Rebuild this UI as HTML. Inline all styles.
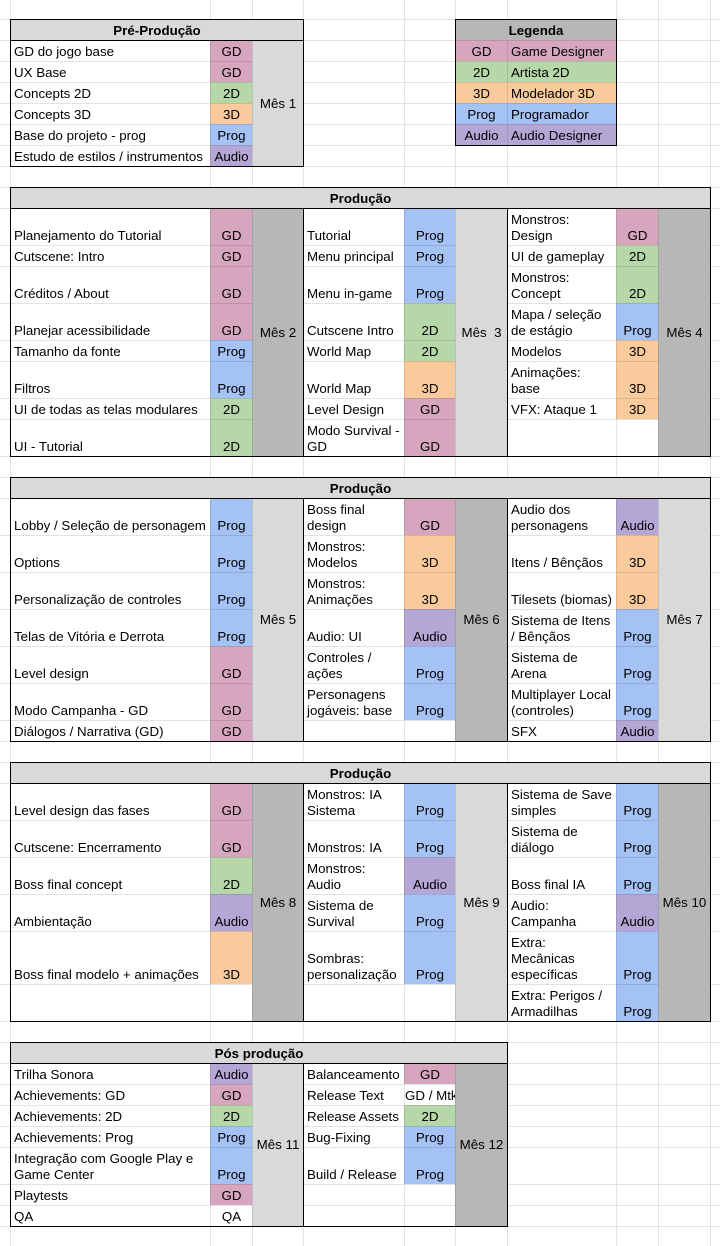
<!DOCTYPE html>
<html><head><meta charset="utf-8">
<style>
html,body{margin:0;padding:0}
body{width:720px;height:1246px;position:relative;overflow:hidden;background:#fff;font-family:"Liberation Sans",Arial,sans-serif;font-size:13.33px;line-height:16px;color:#000}
.gh{position:absolute;left:0;width:720px;height:1px;background:#e2e2e2}
.gv{position:absolute;top:0;height:1246px;width:1px;background:#e2e2e2}
.c{position:absolute;box-sizing:border-box;border-left:1px solid rgba(0,0,0,.115);border-top:1px solid rgba(0,0,0,.115);display:flex;align-items:flex-end;padding:0 3px 1px 3px;white-space:pre;overflow:hidden;background:#fff}
.c span{display:block}
.m{justify-content:center}
.v{align-items:center;padding-bottom:0;justify-content:center}
.h{font-weight:bold;justify-content:center;background:#d9d9d9}
.gd{background:#d5a6bd}.d2{background:#b6d7a8}.d3{background:#f9cb9c}.pg{background:#a4c2f4}.au{background:#b4a7d6}.lg{background:#d9d9d9}.dg{background:#b7b7b7}
.o{position:absolute;box-sizing:border-box;border:1px solid #000}
.k{position:absolute;background:#000}
</style></head><body>

<!-- background gridlines -->
<div class="gh" style="top:19px"></div><div class="gh" style="top:40px"></div><div class="gh" style="top:61px"></div><div class="gh" style="top:82px"></div><div class="gh" style="top:103px"></div><div class="gh" style="top:124px"></div><div class="gh" style="top:145px"></div><div class="gh" style="top:166px"></div><div class="gh" style="top:187px"></div><div class="gh" style="top:208px"></div><div class="gh" style="top:245px"></div><div class="gh" style="top:266px"></div><div class="gh" style="top:303px"></div><div class="gh" style="top:340px"></div><div class="gh" style="top:361px"></div><div class="gh" style="top:398px"></div><div class="gh" style="top:419px"></div><div class="gh" style="top:456px"></div><div class="gh" style="top:477px"></div><div class="gh" style="top:498px"></div><div class="gh" style="top:535px"></div><div class="gh" style="top:572px"></div><div class="gh" style="top:609px"></div><div class="gh" style="top:646px"></div><div class="gh" style="top:683px"></div><div class="gh" style="top:720px"></div><div class="gh" style="top:741px"></div><div class="gh" style="top:762px"></div><div class="gh" style="top:783px"></div><div class="gh" style="top:820px"></div><div class="gh" style="top:857px"></div><div class="gh" style="top:894px"></div><div class="gh" style="top:931px"></div><div class="gh" style="top:984px"></div><div class="gh" style="top:1021px"></div><div class="gh" style="top:1042px"></div><div class="gh" style="top:1063px"></div><div class="gh" style="top:1084px"></div><div class="gh" style="top:1105px"></div><div class="gh" style="top:1126px"></div><div class="gh" style="top:1147px"></div><div class="gh" style="top:1184px"></div><div class="gh" style="top:1205px"></div><div class="gh" style="top:1226px"></div>
<div class="gv" style="left:10px"></div><div class="gv" style="left:210px"></div><div class="gv" style="left:252px"></div><div class="gv" style="left:303px"></div><div class="gv" style="left:404px"></div><div class="gv" style="left:455px"></div><div class="gv" style="left:507px"></div><div class="gv" style="left:616px"></div><div class="gv" style="left:658px"></div><div class="gv" style="left:710px"></div>

<!-- Pré-Produção -->
<div class="c h" style="left:10px;top:19px;width:293px;height:21px"><span>Pré-Produção</span></div>
<div class="c" style="left:10px;top:40px;width:200px;height:21px"><span>GD do jogo base</span></div>
<div class="c m gd" style="left:210px;top:40px;width:42px;height:21px"><span>GD</span></div>
<div class="c" style="left:10px;top:61px;width:200px;height:21px"><span>UX Base</span></div>
<div class="c m gd" style="left:210px;top:61px;width:42px;height:21px"><span>GD</span></div>
<div class="c" style="left:10px;top:82px;width:200px;height:21px"><span>Concepts 2D</span></div>
<div class="c m d2" style="left:210px;top:82px;width:42px;height:21px"><span>2D</span></div>
<div class="c" style="left:10px;top:103px;width:200px;height:21px"><span>Concepts 3D</span></div>
<div class="c m d3" style="left:210px;top:103px;width:42px;height:21px"><span>3D</span></div>
<div class="c" style="left:10px;top:124px;width:200px;height:21px"><span>Base do projeto - prog</span></div>
<div class="c m pg" style="left:210px;top:124px;width:42px;height:21px"><span>Prog</span></div>
<div class="c" style="left:10px;top:145px;width:200px;height:21px"><span>Estudo de estilos / instrumentos</span></div>
<div class="c m au" style="left:210px;top:145px;width:42px;height:21px"><span>Audio</span></div>
<div class="c v lg" style="left:252px;top:40px;width:51px;height:126px"><span>Mês 1</span></div>

<!-- Legenda -->
<div class="c h dg" style="left:455px;top:19px;width:161px;height:21px"><span>Legenda</span></div>
<div class="c m gd" style="left:455px;top:40px;width:52px;height:21px"><span>GD</span></div>
<div class="c gd" style="left:507px;top:40px;width:109px;height:21px"><span>Game Designer</span></div>
<div class="c m d2" style="left:455px;top:61px;width:52px;height:21px"><span>2D</span></div>
<div class="c d2" style="left:507px;top:61px;width:109px;height:21px"><span>Artista 2D</span></div>
<div class="c m d3" style="left:455px;top:82px;width:52px;height:21px"><span>3D</span></div>
<div class="c d3" style="left:507px;top:82px;width:109px;height:21px"><span>Modelador 3D</span></div>
<div class="c m pg" style="left:455px;top:103px;width:52px;height:21px"><span>Prog</span></div>
<div class="c pg" style="left:507px;top:103px;width:109px;height:21px"><span>Programador</span></div>
<div class="c m au" style="left:455px;top:124px;width:52px;height:21px"><span>Audio</span></div>
<div class="c au" style="left:507px;top:124px;width:109px;height:21px"><span>Audio Designer</span></div>

<!-- Produção 1 -->
<div class="c h" style="left:10px;top:187px;width:700px;height:21px"><span>Produção</span></div>
<div class="c" style="left:10px;top:208px;width:200px;height:37px"><span>Planejamento do Tutorial</span></div>
<div class="c m gd" style="left:210px;top:208px;width:42px;height:37px"><span>GD</span></div>
<div class="c" style="left:10px;top:245px;width:200px;height:21px"><span>Cutscene: Intro</span></div>
<div class="c m gd" style="left:210px;top:245px;width:42px;height:21px"><span>GD</span></div>
<div class="c" style="left:10px;top:266px;width:200px;height:37px"><span>Créditos / About</span></div>
<div class="c m gd" style="left:210px;top:266px;width:42px;height:37px"><span>GD</span></div>
<div class="c" style="left:10px;top:303px;width:200px;height:37px"><span>Planejar acessibilidade</span></div>
<div class="c m gd" style="left:210px;top:303px;width:42px;height:37px"><span>GD</span></div>
<div class="c" style="left:10px;top:340px;width:200px;height:21px"><span>Tamanho da fonte</span></div>
<div class="c m pg" style="left:210px;top:340px;width:42px;height:21px"><span>Prog</span></div>
<div class="c" style="left:10px;top:361px;width:200px;height:37px"><span>Filtros</span></div>
<div class="c m pg" style="left:210px;top:361px;width:42px;height:37px"><span>Prog</span></div>
<div class="c" style="left:10px;top:398px;width:200px;height:21px"><span>UI de todas as telas modulares</span></div>
<div class="c m d2" style="left:210px;top:398px;width:42px;height:21px"><span>2D</span></div>
<div class="c" style="left:10px;top:419px;width:200px;height:37px"><span>UI - Tutorial</span></div>
<div class="c m d2" style="left:210px;top:419px;width:42px;height:37px"><span>2D</span></div>
<div class="c v dg" style="left:252px;top:208px;width:51px;height:248px"><span>Mês 2</span></div>

<div class="c" style="left:303px;top:208px;width:101px;height:37px"><span>Tutorial</span></div>
<div class="c m pg" style="left:404px;top:208px;width:51px;height:37px"><span>Prog</span></div>
<div class="c" style="left:303px;top:245px;width:101px;height:21px"><span>Menu principal</span></div>
<div class="c m pg" style="left:404px;top:245px;width:51px;height:21px"><span>Prog</span></div>
<div class="c" style="left:303px;top:266px;width:101px;height:37px"><span>Menu in-game</span></div>
<div class="c m pg" style="left:404px;top:266px;width:51px;height:37px"><span>Prog</span></div>
<div class="c" style="left:303px;top:303px;width:101px;height:37px"><span>Cutscene Intro</span></div>
<div class="c m d2" style="left:404px;top:303px;width:51px;height:37px"><span>2D</span></div>
<div class="c" style="left:303px;top:340px;width:101px;height:21px"><span>World Map</span></div>
<div class="c m d2" style="left:404px;top:340px;width:51px;height:21px"><span>2D</span></div>
<div class="c" style="left:303px;top:361px;width:101px;height:37px"><span>World Map</span></div>
<div class="c m d3" style="left:404px;top:361px;width:51px;height:37px"><span>3D</span></div>
<div class="c" style="left:303px;top:398px;width:101px;height:21px"><span>Level Design</span></div>
<div class="c m gd" style="left:404px;top:398px;width:51px;height:21px"><span>GD</span></div>
<div class="c" style="left:303px;top:419px;width:101px;height:37px"><span>Modo Survival -<br>GD</span></div>
<div class="c m gd" style="left:404px;top:419px;width:51px;height:37px"><span>GD</span></div>
<div class="c v lg" style="left:455px;top:208px;width:52px;height:248px"><span>Mês  3</span></div>

<div class="c" style="left:507px;top:208px;width:109px;height:37px"><span>Monstros:<br>Design</span></div>
<div class="c m gd" style="left:616px;top:208px;width:42px;height:37px"><span>GD</span></div>
<div class="c" style="left:507px;top:245px;width:109px;height:21px"><span>UI de gameplay</span></div>
<div class="c m d2" style="left:616px;top:245px;width:42px;height:21px"><span>2D</span></div>
<div class="c" style="left:507px;top:266px;width:109px;height:37px"><span>Monstros:<br>Concept</span></div>
<div class="c m d2" style="left:616px;top:266px;width:42px;height:37px"><span>2D</span></div>
<div class="c" style="left:507px;top:303px;width:109px;height:37px"><span>Mapa / seleção<br>de estágio</span></div>
<div class="c m pg" style="left:616px;top:303px;width:42px;height:37px"><span>Prog</span></div>
<div class="c" style="left:507px;top:340px;width:109px;height:21px"><span>Modelos</span></div>
<div class="c m d3" style="left:616px;top:340px;width:42px;height:21px"><span>3D</span></div>
<div class="c" style="left:507px;top:361px;width:109px;height:37px"><span>Animações:<br>base</span></div>
<div class="c m d3" style="left:616px;top:361px;width:42px;height:37px"><span>3D</span></div>
<div class="c" style="left:507px;top:398px;width:109px;height:21px"><span>VFX: Ataque 1</span></div>
<div class="c m d3" style="left:616px;top:398px;width:42px;height:21px"><span>3D</span></div>
<div class="c" style="left:507px;top:419px;width:109px;height:37px"></div>
<div class="c" style="left:616px;top:419px;width:42px;height:37px"></div>
<div class="c v dg" style="left:658px;top:208px;width:52px;height:248px"><span>Mês 4</span></div>

<!-- Produção 2 -->
<div class="c h" style="left:10px;top:477px;width:700px;height:21px"><span>Produção</span></div>
<div class="c" style="left:10px;top:498px;width:200px;height:37px"><span>Lobby / Seleção de personagem</span></div>
<div class="c m pg" style="left:210px;top:498px;width:42px;height:37px"><span>Prog</span></div>
<div class="c" style="left:10px;top:535px;width:200px;height:37px"><span>Options</span></div>
<div class="c m pg" style="left:210px;top:535px;width:42px;height:37px"><span>Prog</span></div>
<div class="c" style="left:10px;top:572px;width:200px;height:37px"><span>Personalização de controles</span></div>
<div class="c m pg" style="left:210px;top:572px;width:42px;height:37px"><span>Prog</span></div>
<div class="c" style="left:10px;top:609px;width:200px;height:37px"><span>Telas de Vitória e Derrota</span></div>
<div class="c m pg" style="left:210px;top:609px;width:42px;height:37px"><span>Prog</span></div>
<div class="c" style="left:10px;top:646px;width:200px;height:37px"><span>Level design</span></div>
<div class="c m gd" style="left:210px;top:646px;width:42px;height:37px"><span>GD</span></div>
<div class="c" style="left:10px;top:683px;width:200px;height:37px"><span>Modo Campanha - GD</span></div>
<div class="c m gd" style="left:210px;top:683px;width:42px;height:37px"><span>GD</span></div>
<div class="c" style="left:10px;top:720px;width:200px;height:21px"><span>Diálogos / Narrativa (GD)</span></div>
<div class="c m gd" style="left:210px;top:720px;width:42px;height:21px"><span>GD</span></div>
<div class="c v lg" style="left:252px;top:498px;width:51px;height:243px"><span>Mês 5</span></div>

<div class="c" style="left:303px;top:498px;width:101px;height:37px"><span>Boss final<br>design</span></div>
<div class="c m gd" style="left:404px;top:498px;width:51px;height:37px"><span>GD</span></div>
<div class="c" style="left:303px;top:535px;width:101px;height:37px"><span>Monstros:<br>Modelos</span></div>
<div class="c m d3" style="left:404px;top:535px;width:51px;height:37px"><span>3D</span></div>
<div class="c" style="left:303px;top:572px;width:101px;height:37px"><span>Monstros:<br>Animações</span></div>
<div class="c m d3" style="left:404px;top:572px;width:51px;height:37px"><span>3D</span></div>
<div class="c" style="left:303px;top:609px;width:101px;height:37px"><span>Audio: UI</span></div>
<div class="c m au" style="left:404px;top:609px;width:51px;height:37px"><span>Audio</span></div>
<div class="c" style="left:303px;top:646px;width:101px;height:37px"><span>Controles /<br>ações</span></div>
<div class="c m pg" style="left:404px;top:646px;width:51px;height:37px"><span>Prog</span></div>
<div class="c" style="left:303px;top:683px;width:101px;height:37px"><span>Personagens<br>jogáveis: base</span></div>
<div class="c m pg" style="left:404px;top:683px;width:51px;height:37px"><span>Prog</span></div>
<div class="c" style="left:303px;top:720px;width:101px;height:21px"></div>
<div class="c" style="left:404px;top:720px;width:51px;height:21px"></div>
<div class="c v dg" style="left:455px;top:498px;width:52px;height:243px"><span>Mês 6</span></div>

<div class="c" style="left:507px;top:498px;width:109px;height:37px"><span>Audio dos<br>personagens</span></div>
<div class="c m au" style="left:616px;top:498px;width:42px;height:37px"><span>Audio</span></div>
<div class="c" style="left:507px;top:535px;width:109px;height:37px"><span>Itens / Bênçãos</span></div>
<div class="c m d3" style="left:616px;top:535px;width:42px;height:37px"><span>3D</span></div>
<div class="c" style="left:507px;top:572px;width:109px;height:37px"><span>Tilesets (biomas)</span></div>
<div class="c m d3" style="left:616px;top:572px;width:42px;height:37px"><span>3D</span></div>
<div class="c" style="left:507px;top:609px;width:109px;height:37px"><span>Sistema de Itens<br>/ Bênçãos</span></div>
<div class="c m pg" style="left:616px;top:609px;width:42px;height:37px"><span>Prog</span></div>
<div class="c" style="left:507px;top:646px;width:109px;height:37px"><span>Sistema de<br>Arena</span></div>
<div class="c m pg" style="left:616px;top:646px;width:42px;height:37px"><span>Prog</span></div>
<div class="c" style="left:507px;top:683px;width:109px;height:37px"><span>Multiplayer Local<br>(controles)</span></div>
<div class="c m pg" style="left:616px;top:683px;width:42px;height:37px"><span>Prog</span></div>
<div class="c" style="left:507px;top:720px;width:109px;height:21px"><span>SFX</span></div>
<div class="c m au" style="left:616px;top:720px;width:42px;height:21px"><span>Audio</span></div>
<div class="c v lg" style="left:658px;top:498px;width:52px;height:243px"><span>Mês 7</span></div>

<!-- Produção 3 -->
<div class="c h" style="left:10px;top:762px;width:700px;height:21px"><span>Produção</span></div>
<div class="c" style="left:10px;top:783px;width:200px;height:37px"><span>Level design das fases</span></div>
<div class="c m gd" style="left:210px;top:783px;width:42px;height:37px"><span>GD</span></div>
<div class="c" style="left:10px;top:820px;width:200px;height:37px"><span>Cutscene: Encerramento</span></div>
<div class="c m gd" style="left:210px;top:820px;width:42px;height:37px"><span>GD</span></div>
<div class="c" style="left:10px;top:857px;width:200px;height:37px"><span>Boss final concept</span></div>
<div class="c m d2" style="left:210px;top:857px;width:42px;height:37px"><span>2D</span></div>
<div class="c" style="left:10px;top:894px;width:200px;height:37px"><span>Ambientação</span></div>
<div class="c m au" style="left:210px;top:894px;width:42px;height:37px"><span>Audio</span></div>
<div class="c" style="left:10px;top:931px;width:200px;height:53px"><span>Boss final modelo + animações</span></div>
<div class="c m d3" style="left:210px;top:931px;width:42px;height:53px"><span>3D</span></div>
<div class="c" style="left:10px;top:984px;width:200px;height:37px"></div>
<div class="c" style="left:210px;top:984px;width:42px;height:37px"></div>
<div class="c v dg" style="left:252px;top:783px;width:51px;height:238px"><span>Mês 8</span></div>

<div class="c" style="left:303px;top:783px;width:101px;height:37px"><span>Monstros: IA<br>Sistema</span></div>
<div class="c m pg" style="left:404px;top:783px;width:51px;height:37px"><span>Prog</span></div>
<div class="c" style="left:303px;top:820px;width:101px;height:37px"><span>Monstros: IA</span></div>
<div class="c m pg" style="left:404px;top:820px;width:51px;height:37px"><span>Prog</span></div>
<div class="c" style="left:303px;top:857px;width:101px;height:37px"><span>Monstros:<br>Audio</span></div>
<div class="c m au" style="left:404px;top:857px;width:51px;height:37px"><span>Audio</span></div>
<div class="c" style="left:303px;top:894px;width:101px;height:37px"><span>Sistema de<br>Survival</span></div>
<div class="c m pg" style="left:404px;top:894px;width:51px;height:37px"><span>Prog</span></div>
<div class="c" style="left:303px;top:931px;width:101px;height:53px"><span>Sombras:<br>personalização</span></div>
<div class="c m pg" style="left:404px;top:931px;width:51px;height:53px"><span>Prog</span></div>
<div class="c" style="left:303px;top:984px;width:101px;height:37px"></div>
<div class="c" style="left:404px;top:984px;width:51px;height:37px"></div>
<div class="c v lg" style="left:455px;top:783px;width:52px;height:238px"><span>Mês 9</span></div>

<div class="c" style="left:507px;top:783px;width:109px;height:37px"><span>Sistema de Save<br>simples</span></div>
<div class="c m pg" style="left:616px;top:783px;width:42px;height:37px"><span>Prog</span></div>
<div class="c" style="left:507px;top:820px;width:109px;height:37px"><span>Sistema de<br>diálogo</span></div>
<div class="c m pg" style="left:616px;top:820px;width:42px;height:37px"><span>Prog</span></div>
<div class="c" style="left:507px;top:857px;width:109px;height:37px"><span>Boss final IA</span></div>
<div class="c m pg" style="left:616px;top:857px;width:42px;height:37px"><span>Prog</span></div>
<div class="c" style="left:507px;top:894px;width:109px;height:37px"><span>Audio:<br>Campanha</span></div>
<div class="c m au" style="left:616px;top:894px;width:42px;height:37px"><span>Audio</span></div>
<div class="c" style="left:507px;top:931px;width:109px;height:53px"><span>Extra:<br>Mecânicas<br>específicas</span></div>
<div class="c m pg" style="left:616px;top:931px;width:42px;height:53px"><span>Prog</span></div>
<div class="c" style="left:507px;top:984px;width:109px;height:37px"><span>Extra: Perigos /<br>Armadilhas</span></div>
<div class="c m pg" style="left:616px;top:984px;width:42px;height:37px"><span>Prog</span></div>
<div class="c v dg" style="left:658px;top:783px;width:52px;height:238px"><span>Mês 10</span></div>

<!-- Pós produção -->
<div class="c h" style="left:10px;top:1042px;width:497px;height:21px"><span>Pós produção</span></div>
<div class="c" style="left:10px;top:1063px;width:200px;height:21px"><span>Trilha Sonora</span></div>
<div class="c m au" style="left:210px;top:1063px;width:42px;height:21px"><span>Audio</span></div>
<div class="c" style="left:10px;top:1084px;width:200px;height:21px"><span>Achievements: GD</span></div>
<div class="c m gd" style="left:210px;top:1084px;width:42px;height:21px"><span>GD</span></div>
<div class="c" style="left:10px;top:1105px;width:200px;height:21px"><span>Achievements: 2D</span></div>
<div class="c m d2" style="left:210px;top:1105px;width:42px;height:21px"><span>2D</span></div>
<div class="c" style="left:10px;top:1126px;width:200px;height:21px"><span>Achievements: Prog</span></div>
<div class="c m pg" style="left:210px;top:1126px;width:42px;height:21px"><span>Prog</span></div>
<div class="c" style="left:10px;top:1147px;width:200px;height:37px"><span>Integração com Google Play e<br>Game Center</span></div>
<div class="c m pg" style="left:210px;top:1147px;width:42px;height:37px"><span>Prog</span></div>
<div class="c" style="left:10px;top:1184px;width:200px;height:21px"><span>Playtests</span></div>
<div class="c m gd" style="left:210px;top:1184px;width:42px;height:21px"><span>GD</span></div>
<div class="c" style="left:10px;top:1205px;width:200px;height:21px"><span>QA</span></div>
<div class="c m" style="left:210px;top:1205px;width:42px;height:21px"><span>QA</span></div>
<div class="c v lg" style="left:252px;top:1063px;width:51px;height:163px"><span>Mês 11</span></div>

<div class="c" style="left:303px;top:1063px;width:101px;height:21px"><span>Balanceamento</span></div>
<div class="c m gd" style="left:404px;top:1063px;width:51px;height:21px"><span>GD</span></div>
<div class="c" style="left:303px;top:1084px;width:101px;height:21px"><span>Release Text</span></div>
<div class="c" style="left:404px;top:1084px;width:51px;height:21px;padding-left:0;padding-right:0"><span>GD / Mtk</span></div>
<div class="c" style="left:303px;top:1105px;width:101px;height:21px"><span>Release Assets</span></div>
<div class="c m d2" style="left:404px;top:1105px;width:51px;height:21px"><span>2D</span></div>
<div class="c" style="left:303px;top:1126px;width:101px;height:21px"><span>Bug-Fixing</span></div>
<div class="c m pg" style="left:404px;top:1126px;width:51px;height:21px"><span>Prog</span></div>
<div class="c" style="left:303px;top:1147px;width:101px;height:37px"><span>Build / Release</span></div>
<div class="c m pg" style="left:404px;top:1147px;width:51px;height:37px"><span>Prog</span></div>
<div class="c" style="left:303px;top:1184px;width:101px;height:21px"></div>
<div class="c" style="left:404px;top:1184px;width:51px;height:21px"></div>
<div class="c" style="left:303px;top:1205px;width:101px;height:21px"></div>
<div class="c" style="left:404px;top:1205px;width:51px;height:21px"></div>
<div class="c v dg" style="left:455px;top:1063px;width:52px;height:163px"><span>Mês 12</span></div>

<!-- black borders -->
<div class="o" style="left:10px;top:19px;width:294px;height:148px"></div>
<div class="k" style="left:10px;top:40px;width:294px;height:1px"></div>

<div class="o" style="left:455px;top:19px;width:162px;height:127px"></div>

<div class="o" style="left:10px;top:187px;width:701px;height:270px"></div>
<div class="k" style="left:10px;top:208px;width:701px;height:1px"></div>
<div class="k" style="left:303px;top:208px;width:1px;height:249px"></div>
<div class="k" style="left:507px;top:208px;width:1px;height:249px"></div>

<div class="o" style="left:10px;top:477px;width:701px;height:265px"></div>
<div class="k" style="left:10px;top:498px;width:701px;height:1px"></div>
<div class="k" style="left:303px;top:498px;width:1px;height:244px"></div>
<div class="k" style="left:507px;top:498px;width:1px;height:244px"></div>

<div class="o" style="left:10px;top:762px;width:701px;height:260px"></div>
<div class="k" style="left:10px;top:783px;width:701px;height:1px"></div>
<div class="k" style="left:303px;top:783px;width:1px;height:239px"></div>
<div class="k" style="left:507px;top:783px;width:1px;height:239px"></div>

<div class="o" style="left:10px;top:1042px;width:498px;height:185px"></div>
<div class="k" style="left:10px;top:1063px;width:498px;height:1px"></div>
<div class="k" style="left:303px;top:1063px;width:1px;height:164px"></div>

</body></html>
